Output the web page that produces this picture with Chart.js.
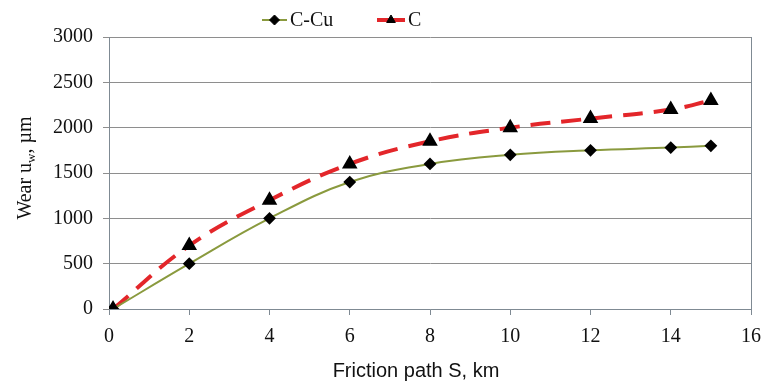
<!DOCTYPE html>
<html lang="en">
<head>
  <meta charset="UTF-8" />
  <title>Wear vs friction path</title>
  <script src="https://cdn.jsdelivr.net/npm/chart.js"></script>
  <style>
    body { margin: 0; background: white; }
    #wrap { width: 763px; height: 383px; position: relative; }
  </style>
</head>
<body>
  <div id="wrap"><canvas id="myChart" width="763" height="383"></canvas></div>

  <script>
    // friction path S, km
    const pathKm = [0.1, 2, 4, 6, 8, 10, 12, 14, 15];
    // wear, um
    const wearCCu = [0, 500, 1000, 1400, 1600, 1700, 1750, 1780, 1800];
    const wearC   = [0, 700, 1200, 1600, 1850, 2000, 2100, 2200, 2300];
    const seriesNames = ["C-Cu", "C"];

    const serif = "'Liberation Serif', 'DejaVu Serif', serif";
    const sans = "'Liberation Sans', Arial, sans-serif";

    const toPoints = ys => ys.map((y, i) => ({ x: pathKm[i], y: y }));

    // frame, axis titles and legend drawn by hand
    const extras = {
      id: "extras",
      afterDraw(chart) {
        const ctx = chart.ctx;
        const a = chart.chartArea;
        ctx.save();
        ctx.strokeStyle = "#7f8a93";
        ctx.lineWidth = 1;
        ctx.beginPath();
        ctx.moveTo(a.right + 0.5, a.top);
        ctx.lineTo(a.right + 0.5, a.bottom);
        ctx.stroke();

        // x title
        ctx.fillStyle = "#111";
        ctx.font = "20px " + sans;
        ctx.textAlign = "center";
        ctx.textBaseline = "middle";
        ctx.fillText("Friction path S, km", 416, 371);

        // y title with subscript
        ctx.translate(24, 168);
        ctx.rotate(-Math.PI / 2);
        ctx.font = "20px " + serif;
        const p1 = "Wear u", sub = "w", p2 = ", \u00b5m";
        const w1 = ctx.measureText(p1).width;
        ctx.font = "13px " + serif;
        const ws = ctx.measureText(sub).width;
        ctx.font = "20px " + serif;
        const w2 = ctx.measureText(p2).width;
        let x0 = -(w1 + ws + w2) / 2;
        ctx.textAlign = "left";
        ctx.textBaseline = "alphabetic";
        ctx.fillText(p1, x0, 7);
        ctx.font = "13px " + serif;
        ctx.fillText(sub, x0 + w1, 11);
        ctx.font = "20px " + serif;
        ctx.fillText(p2, x0 + w1 + ws, 7);
        ctx.restore();

        // legend
        ctx.save();
        const items = [
          { x: 262, len: 25, ds: chart.data.datasets[0] },
          { x: 377, len: 28, ds: chart.data.datasets[1] }
        ];
        const ly = 20;
        items.forEach(it => {
          ctx.strokeStyle = it.ds.borderColor;
          ctx.lineWidth = it.ds.borderWidth;
          ctx.beginPath();
          ctx.moveTo(it.x, ly);
          ctx.lineTo(it.x + it.len, ly);
          ctx.stroke();
          ctx.fillStyle = "#000";
          ctx.strokeStyle = "#000";
          ctx.lineWidth = 1;
          Chart.helpers.drawPoint(ctx, {
            pointStyle: it.ds.pointStyle,
            radius: it.ds.pointRadius,
            borderWidth: 1,
            rotation: 0
          }, it.x + it.len / 2, ly);
          ctx.fillStyle = "#111";
          ctx.font = "20px " + serif;
          ctx.textAlign = "left";
          ctx.textBaseline = "middle";
          ctx.fillText(it.ds.label, it.x + it.len + 3, ly + 1);
        });
        ctx.restore();
      }
    };

    const ctx = document.getElementById("myChart").getContext("2d");
    new Chart(ctx, {
      type: "line",
      data: {
        datasets: [
          {
            label: seriesNames[0],
            data: toPoints(wearCCu),
            borderColor: "#8a9a3e",
            borderWidth: 2,
            pointStyle: "rectRot",
            pointRadius: 5,
            pointBackgroundColor: "#000",
            pointBorderColor: "#000",
            tension: 0.4,
            fill: false
          },
          {
            label: seriesNames[1],
            data: toPoints(wearC),
            borderColor: "#e3262a",
            borderWidth: 4,
            borderDash: [20, 11],
            pointStyle: "triangle",
            pointRadius: 5,
            pointBackgroundColor: "#000",
            pointBorderColor: "#000",
            tension: 0.4,
            fill: false
          }
        ]
      },
      options: {
        responsive: false,
        animation: false,
        layout: { padding: { top: 37, right: 2, left: 0, bottom: 0 } },
        plugins: { legend: { display: false }, tooltip: { enabled: false } },
        scales: {
          x: {
            type: "linear",
            min: 0, max: 16,
            ticks: { stepSize: 2, color: "#111", font: { family: serif, size: 20 }, padding: 10, maxRotation: 0 },
            grid: { drawOnChartArea: false, tickLength: 6, color: "#7f8a93" },
            border: { color: "#7f8a93" },
            afterFit: s => { s.height = 74; s.paddingRight = 12; }
          },
          y: {
            min: 0, max: 3000,
            ticks: { stepSize: 500, color: "#111", font: { family: serif, size: 20 }, padding: 10, callback: v => String(v) },
            grid: { tickLength: 6, color: "#8e8e8e" },
            border: { color: "#7f8a93" },
            afterFit: s => { s.width = 109; }
          }
        }
      },
      plugins: [extras]
    });
  </script>
</body>
</html>
